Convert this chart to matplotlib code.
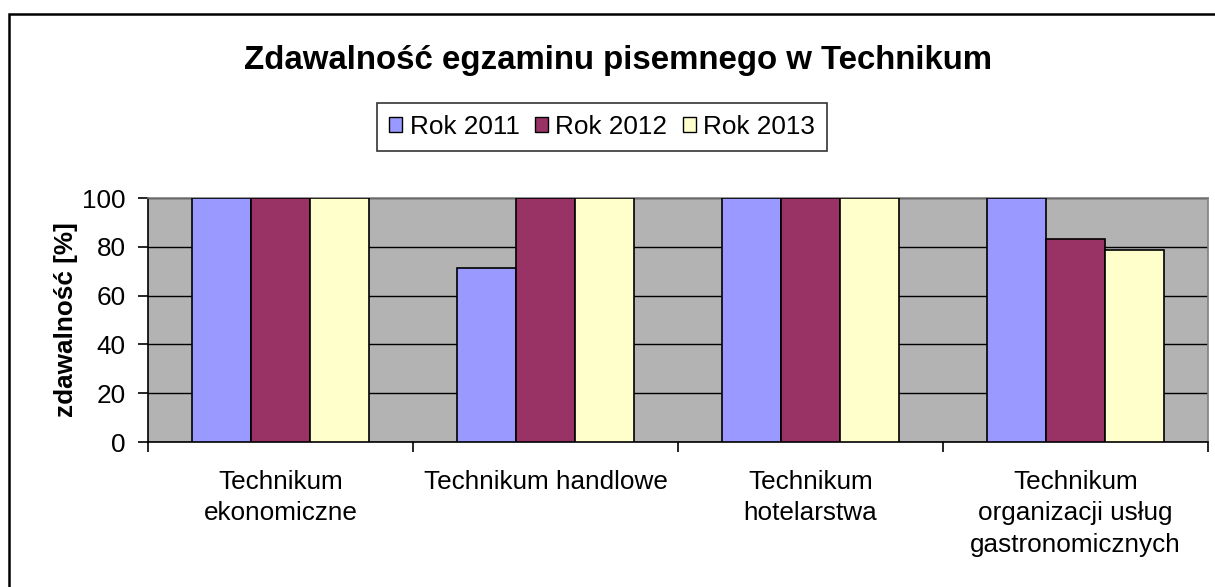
import matplotlib
matplotlib.use("Agg")
import matplotlib.pyplot as plt
import numpy as np
from matplotlib.patches import Rectangle

plt.rcParams["font.family"] = ["Liberation Sans", "DejaVu Sans"]

categories = ["Technikum\nekonomiczne", "Technikum handlowe",
              "Technikum\nhotelarstwa", "Technikum\norganizacji usług\ngastronomicznych"]
series_names = ["Rok 2011", "Rok 2012", "Rok 2013"]
rok_2011 = [100, 71.4, 100, 100]
rok_2012 = [100, 100, 100, 83.3]
rok_2013 = [100, 100, 100, 78.6]
colors = ["#9999FF", "#993366", "#FFFFCC"]

W, H = 1215, 587
fs = 18.8
fig = plt.figure(figsize=(W / 100, H / 100), dpi=100)
ax = fig.add_axes([148 / W, 1 - 442 / H, 1060 / W, 244 / H])
ax.set_facecolor("#B3B3B3")

x = np.arange(len(categories))
bw = 0.2226
for k, (vals, name, c) in enumerate(zip([rok_2011, rok_2012, rok_2013], series_names, colors)):
    ax.bar(x + (k - 1) * bw, vals, width=bw, color=c, edgecolor="black",
           linewidth=1.2, label=name, zorder=3)

ax.set_xlim(-0.5, len(categories) - 0.5)
ax.set_ylim(0, 100)
ax.set_yticks(range(0, 101, 20))
ax.yaxis.grid(True, color="black", linewidth=1.0, zorder=1)
ax.set_axisbelow(True)

ax.set_xticks(x)
ax.set_xticklabels(categories, fontsize=fs, linespacing=1.4)
ax.set_xticks(np.arange(-0.5, len(categories)), minor=True)
ax.tick_params(axis="x", which="major", length=0, pad=20)
ax.tick_params(axis="x", which="minor", length=7, width=1.2, direction="out", color="black")
ax.tick_params(axis="y", labelsize=fs, length=7, width=1.2, direction="out", pad=9)

for s in ["left", "bottom"]:
    ax.spines[s].set_color("black")
    ax.spines[s].set_linewidth(1.2)
for s in ["top", "right"]:
    ax.spines[s].set_color("#808080")
    ax.spines[s].set_linewidth(1.2)

ax.set_ylabel("zdawalność [%]", fontsize=fs, fontweight="bold")
ax.yaxis.set_label_coords(-0.066, 0.5)

fig.text(618 / W, 1 - 60 / H, "Zdawalność egzaminu pisemnego w Technikum",
         ha="center", va="center", fontsize=23.8, fontweight="bold")

leg = fig.legend(loc="center", bbox_to_anchor=(602 / W, 1 - 127 / H), ncol=3,
                 fontsize=fs, frameon=True, fancybox=False, shadow=False,
                 handlelength=0.5, handleheight=0.5, handletextpad=0.3,
                 columnspacing=0.58, borderpad=0.45, borderaxespad=0)
leg.get_frame().set_edgecolor("black")
leg.get_frame().set_linewidth(1.2)
for p in leg.get_patches():
    p.set_linewidth(1.0)

# chart area frame (cut off on the right and bottom)
fig.patches.append(Rectangle((9 / W, -0.1), 1.5, 1.1 - 14 / H, transform=fig.transFigure,
                             fill=False, edgecolor="black", linewidth=1.8))

fig.savefig("out.png", dpi=100)
